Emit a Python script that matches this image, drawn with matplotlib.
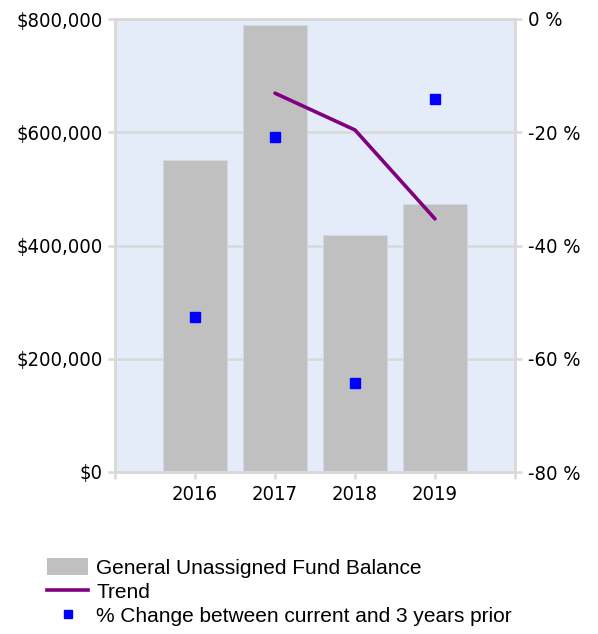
import matplotlib
matplotlib.use("Agg")
import matplotlib.pyplot as plt
from matplotlib.ticker import FuncFormatter
from matplotlib.lines import Line2D
from matplotlib.patches import Patch

years = ["2016", "2017", "2018", "2019"]
fund_balance = [551000, 789000, 418500, 473500]
pct_change = [-52.6, -20.8, -64.3, -14.1]
trend_years = ["2017", "2018", "2019"]
trend = [-13.1, -19.6, -35.3]

grid_col = "#d9d9d9"
x = list(range(len(years)))
tx = [years.index(y) for y in trend_years]

fig = plt.figure(figsize=(5.98, 6.34), dpi=100)
ax = fig.add_axes([115 / 598, 1 - 472 / 634, 400 / 598, 453 / 634])
ax.set_facecolor("#e5ecf9")
ax.bar(x, fund_balance, width=0.8, color="#c0c0c0", edgecolor="#d4d9e3", linewidth=0.6, zorder=2)
ax.set_xlim(-1, 4)
ax.set_ylim(0, 800000)
ax.set_yticks([0, 200000, 400000, 600000, 800000])
ax.yaxis.set_major_formatter(FuncFormatter(lambda v, p: f"${v:,.0f}"))
ax.set_xticks([-1, 0, 1, 2, 3, 4])
ax.set_xticklabels([""] + years + [""])
ax.grid(axis="y", color=grid_col, linewidth=1.8, zorder=1)
ax.set_axisbelow(True)

ax2 = ax.twinx()
ax2.set_ylim(-80, 0)
ax2.set_yticks([-80, -60, -40, -20, 0])
ax2.yaxis.set_major_formatter(FuncFormatter(lambda v, p: f"{v:.0f} %"))
ax2.plot(tx, trend, color="#800080", linewidth=2.6, solid_capstyle="round", zorder=3)
ax2.plot(x, pct_change, linestyle="none", marker="s", markersize=7.5,
         color="#0000ff", markeredgecolor="#0000ff", zorder=4)

for a in (ax, ax2):
    for s in a.spines.values():
        s.set_color(grid_col)
        s.set_linewidth(1.8)
    a.tick_params(length=5, width=1.8, color=grid_col, labelsize=14.5,
                  labelcolor="black", pad=4)
    for lab in a.get_xticklabels() + a.get_yticklabels():
        lab.set_fontfamily("DejaVu Sans")
        lab.set_fontstretch("condensed")

handles = [
    Patch(facecolor="#c0c0c0", edgecolor="none"),
    Line2D([], [], color="#800080", linewidth=2.6),
    Line2D([], [], linestyle="none", marker="s", markersize=6, color="#0000ff"),
]
labels = ["General Unassigned Fund Balance", "Trend",
          "% Change between current and 3 years prior"]
fig.legend(handles, labels, loc="upper left", bbox_to_anchor=(47 / 598, 1 - 558 / 634),
           frameon=False, prop={"family": "Liberation Sans", "size": 15},
           handlelength=1.97, handleheight=0.85, handletextpad=0.4,
           labelspacing=0.22, borderaxespad=0, borderpad=0)

fig.savefig("out.png", dpi=100)
